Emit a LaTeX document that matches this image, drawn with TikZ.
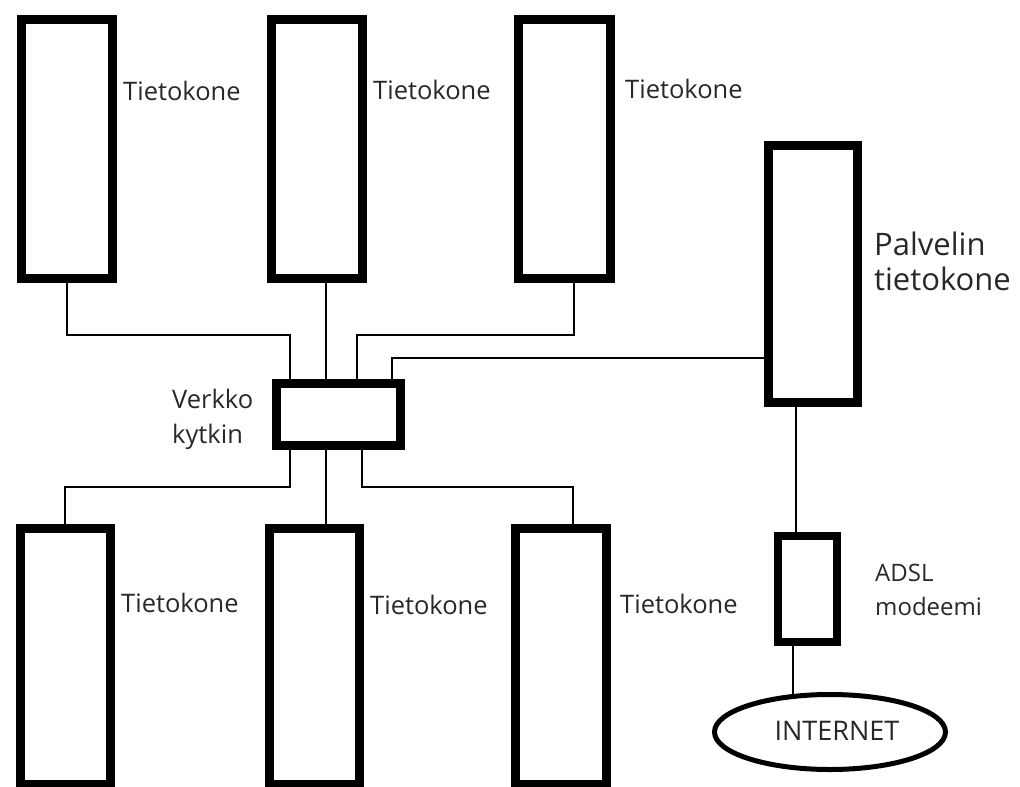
\documentclass[tikz,border=0pt]{standalone}
\usepackage{fontspec}
\setmainfont{Open Sans}
\usetikzlibrary{shapes.geometric}
\definecolor{txt}{RGB}{40,40,40}
\tikzset{
  box/.style={draw, line width=9pt, inner sep=0pt, fill=white},
  pc/.style={box, minimum width=91pt, minimum height=259pt},
  pcb/.style={box, minimum width=90pt, minimum height=256pt},
  wire/.style={line width=2pt},
  lbl/.style={text=txt, inner sep=0pt, anchor=base west, align=left},
}
\begin{document}
\begin{tikzpicture}[x=1pt, y=-1pt]
\useasboundingbox (0,0) rectangle (1020,787);
% computers top
\node[pc] (c1) at (66.5,148.5) {};
\node[pc] (c2) at (316.5,148.5) {};
\node[pc, minimum width=92pt] (c3) at (564,148.5) {};
% server
\node[box, minimum width=89pt, minimum height=257pt] (srv) at (812.5,273.5) {};
% switch
\node[box, minimum width=124pt, minimum height=62pt] (sw) at (338,414) {};
% computers bottom
\node[pcb] (c4) at (65,656) {};
\node[pcb] (c5) at (314,656) {};
\node[pcb, minimum width=91pt] (c6) at (560.5,656) {};
% adsl
\node[box, line width=8pt, minimum width=59pt, minimum height=106pt] (adsl) at (807.5,589) {};
% internet
\node[draw, ellipse, line width=5pt, minimum width=231pt, minimum height=75pt, inner sep=0pt] (net) at (830,732) {};
\node[text=txt, font=\fontsize{27}{30}\selectfont, inner sep=0pt, anchor=base] (nett) at (837,740) {INTERNET};

% helper coordinates
\coordinate (xa) at (290,0);
\coordinate (xb) at (326,0);
\coordinate (xc) at (357,0);
\coordinate (xd) at (392,0);
\coordinate (xe) at (362,0);
\coordinate (x3) at (574,0);
\coordinate (x6) at (573,0);
\coordinate (xm) at (796,0);
\coordinate (xn) at (793,0);
\coordinate (yu) at (0,335);
\coordinate (ys) at (0,358);
\coordinate (yl) at (0,487);

% connectors
\draw[wire] (c1.south) |- (xa |- yu) -- (xa |- sw.north);
\draw[wire] (c2.south -| xb) -- (xb |- sw.north);
\draw[wire] (c3.south -| x3) |- (xc |- yu) -- (xc |- sw.north);
\draw[wire] (srv.west |- ys) -| (xd |- sw.north);
\draw[wire] (sw.south -| xa) |- (yl -| c4.north) -- (c4.north);
\draw[wire] (sw.south -| xb) -- (c5.north -| xb);
\draw[wire] (sw.south -| xe) |- (yl -| x6) -- (c6.north -| x6);
\draw[wire] (srv.south -| xm) -- (adsl.north -| xm);
\draw[wire] (adsl.south -| xn) -- ([yshift=-1.5pt]net.north -| xn);

% labels
\begin{scope}[every node/.style={lbl, font=\fontsize{25.5}{35}\selectfont}]
\node (l1) at (123,100) {Tietokone};
\node (l2) at (373,99) {Tietokone};
\node (l3) at (625,98) {Tietokone};
\node (l4) at (121,612) {Tietokone};
\node (l5) at (370,614) {Tietokone};
\node (l6) at (620,613) {Tietokone};
\node (lsw) at (172,443) {Verkko\\kytkin};
\end{scope}
\node[lbl, font=\fontsize{31}{35}\selectfont] (lsrv) at (874,290) {Palvelin\\tietokone};
\node[lbl, font=\fontsize{24}{34}\selectfont] (ladsl) at (875,615) {ADSL\\modeemi};
\end{tikzpicture}
\end{document}
